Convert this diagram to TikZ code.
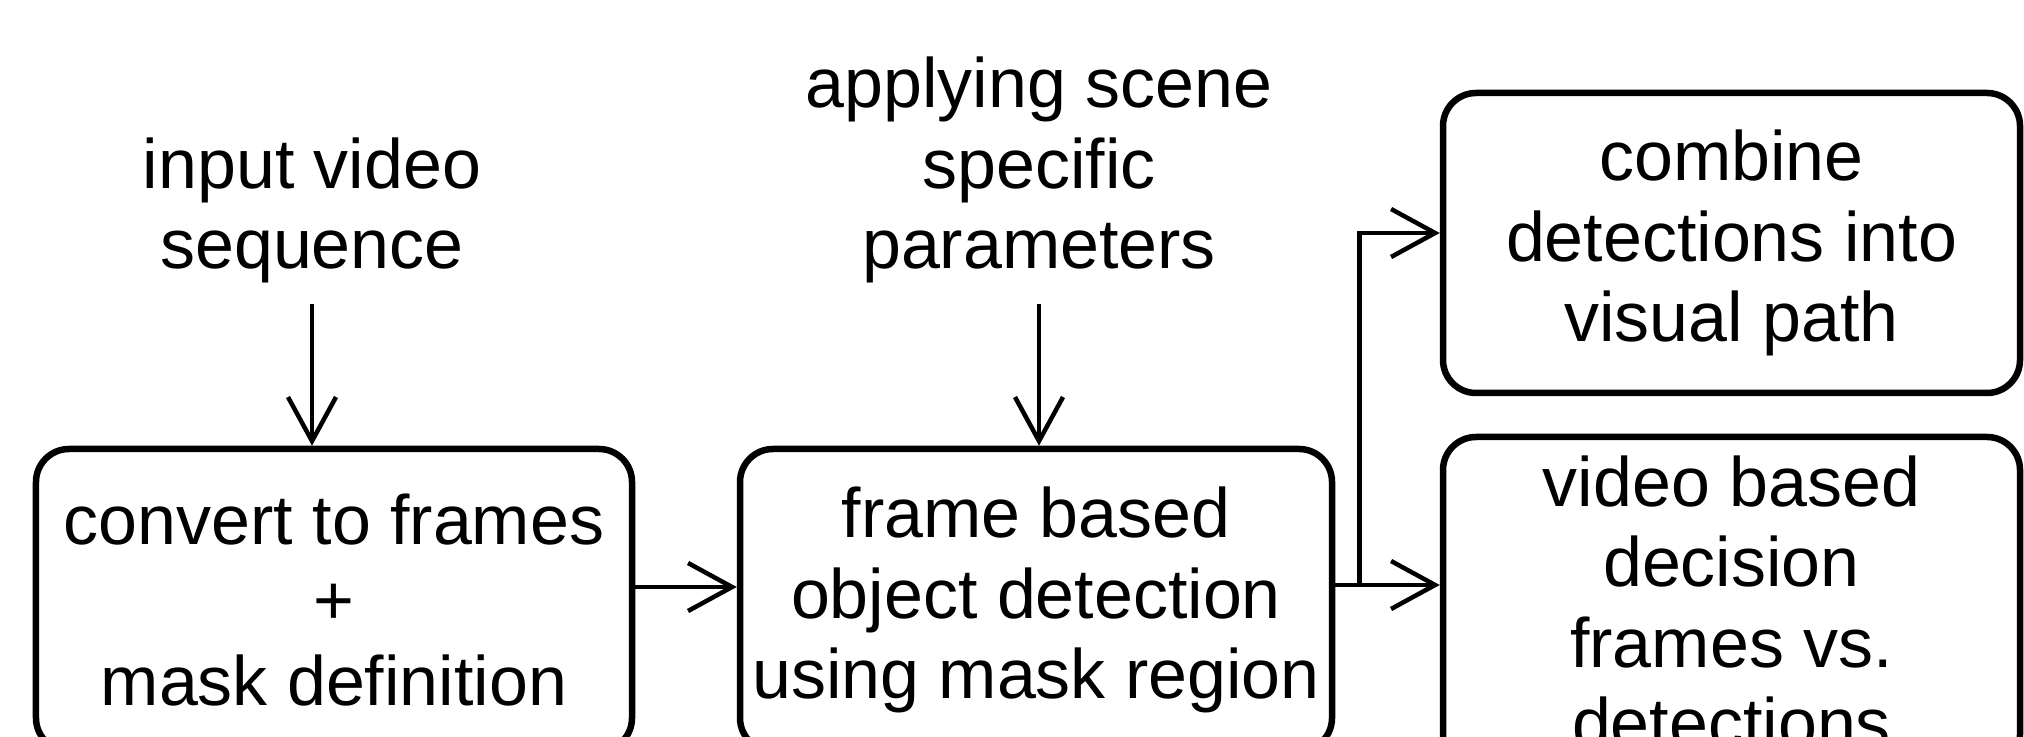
\documentclass[tikz,border=0pt]{standalone}
\usepackage{fontspec}
\setmainfont{Liberation Sans}
\usetikzlibrary{arrows.meta}

\begin{document}
\begin{tikzpicture}[box/.style={draw, rounded corners=3.3mm, line width=0.65mm,
    align=center, inner sep=0pt},
  txt/.style={align=center, inner sep=1.9mm},
  >={Straight Barb[length=4.4mm,width=4.8mm]}, line width=0.45mm,
  font=\fontsize{19.9}{22.8}\selectfont]

  \path[use as bounding box, clip] (0,0) rectangle (20.24,-7.37);

  \node[box, minimum width=5.96cm, minimum height=3.02cm] (convert) at (3.34,-6.00)
    {convert to frames\\+\\mask definition};
  \node[box, minimum width=5.92cm, minimum height=3.02cm] (detect) at (10.36,-6.00)
    {frame based\\object detection\\using mask region};
  \node[box, minimum width=5.77cm, minimum height=3.00cm] (combine) at (17.315,-2.43)
    {combine\\detections into\\visual path};
  \node[box, minimum width=5.77cm, minimum height=3.30cm] (decide) at (17.315,-6.02)
    {video based\\decision\\frames vs.\\detections};

  \node[txt] (input) at (3.12,-2.10) {input video\\sequence};
  \node[txt] (scene) at (10.39,-1.70) {applying scene\\specific\\parameters};

  \draw[->] (input) -- (input |- convert.north);
  \draw[->] (scene) -- (scene |- detect.north);
  \draw[->] ([yshift=1.3mm]convert.east) -- ([yshift=1.3mm]detect.west);

  \coordinate (split) at ([xshift=2.4mm,yshift=1.5mm]detect.east);
  \draw[->] (detect.east |- split) -- (split -| decide.west);
  \draw[->] (split) |- ([yshift=1mm]combine.west);

\end{tikzpicture}
\end{document}
